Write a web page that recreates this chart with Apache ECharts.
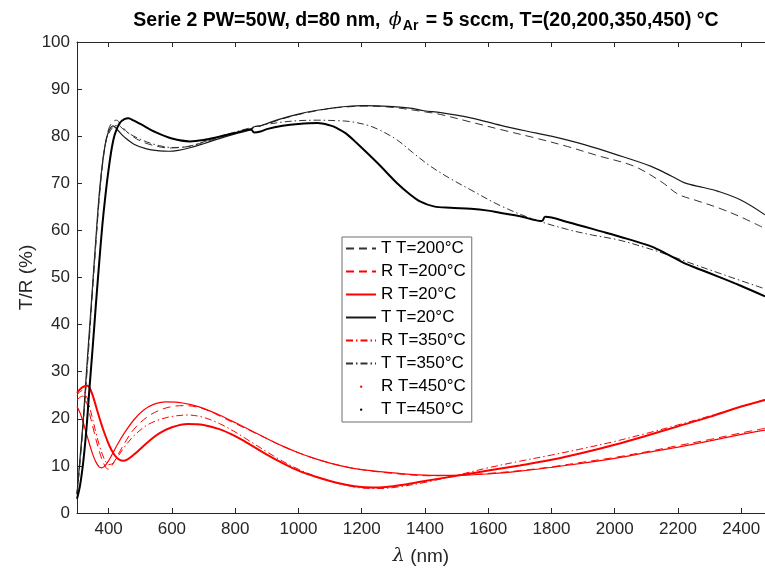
<!DOCTYPE html>
<html>
<head>
<meta charset="utf-8">
<script src="https://cdn.jsdelivr.net/npm/echarts@6/dist/echarts.min.js"></script>
<style>
html,body{margin:0;padding:0;background:#fff;}
#chart{width:765px;height:571px;}
</style>
</head>
<body>
<div id="chart"></div>
<script>
// ---- data (wavelength nm / value %) ----
var xTicks = [400,600,800,1000,1200,1400,1600,1800,2000,2200,2400];

var t200_nm = [300,310,320,330,340,350,360,370,380,390,400,412,425,440,460,500,550,594,650,700,750,800,850,900,950,1000,1050,1100,1150,1207,1300,1397,1450,1545,1640,1750,1851,1950,2062,2150,2200,2260,2327,2400,2475];
var t200_val = [4,11,19,28.5,38,48,57.5,66.5,73.5,78.5,81.5,83.0,83.4,82.3,80.8,79.0,77.9,77.5,77.8,78.7,79.7,80.7,81.6,82.6,83.7,84.6,85.3,85.9,86.2,86.4,86.1,85.2,84.6,83.0,81.4,79.6,77.8,75.8,73.6,70.2,67.7,66.3,64.8,62.8,60.4];

var r200_nm = [300,310,318,330,340,350,360,370,380,390,398,410,425,450,480,520,560,600,640,680,720,760,800,850,900,950,1000,1050,1100,1150,1200,1300,1420,1500,1600,1700,1800,1900,2000,2100,2200,2300,2400,2475];
var r200_val = [24.0,24.6,24.8,23.5,21.0,18.3,15.6,13.2,11.2,9.8,9.3,10.0,11.8,14.8,17.8,20.3,21.8,22.6,22.8,22.5,21.6,20.3,19.0,17.4,15.8,14.2,12.8,11.6,10.6,9.8,9.2,8.4,7.9,8.0,8.4,9.0,9.8,10.8,11.8,13.0,14.3,15.6,17.0,18.0];

var r20_nm = [300,310,320,330,340,350,360,370,377,385,395,410,430,450,480,510,540,580,620,660,700,750,800,850,900,950,1000,1050,1100,1150,1200,1300,1420,1500,1600,1700,1800,1900,2000,2100,2200,2300,2400,2475];
var r20_val = [22.6,21.2,19.2,16.8,14.5,12.4,10.8,9.8,9.6,9.8,10.6,12.3,14.8,17.0,19.8,21.8,23.0,23.6,23.5,23.0,22.2,20.8,19.2,17.5,15.8,14.2,12.8,11.6,10.6,9.8,9.2,8.5,8.0,8.0,8.3,8.9,9.7,10.6,11.6,12.8,14.0,15.3,16.7,17.6];

var t20_nm = [300,310,320,330,340,350,360,370,380,390,400,414,430,450,480,520,560,590,620,660,700,750,800,850,860,880,900,950,1000,1050,1100,1150,1207,1300,1360,1397,1450,1545,1640,1720,1799,1904,2000,2115,2180,2221,2280,2327,2400,2475];
var t20_val = [4,12,20,30,39.5,49,58.5,67.5,74,78.5,81,82.2,81.2,79.8,78.3,77.3,76.9,76.8,77.0,77.6,78.4,79.5,80.5,81.4,82.0,82.2,82.7,83.8,84.7,85.4,85.9,86.3,86.5,86.3,85.9,85.4,85.0,83.9,82.3,81.1,80.0,78.2,76.2,73.6,71.5,70.1,69.1,68.3,66.4,63.3];

var r350_nm = [300,310,318,330,340,350,360,370,380,390,400,410,425,450,480,520,560,600,650,700,750,800,850,900,950,1000,1050,1100,1150,1200,1250,1300,1400,1500,1600,1700,1800,1900,2000,2100,2200,2300,2400,2475];
var r350_val = [25.0,25.8,26.0,24.8,22.5,19.8,17.0,14.5,12.5,11.0,10.3,10.4,11.6,14.0,16.4,18.6,19.8,20.5,20.8,20.3,19.0,17.2,15.1,13.0,11.0,9.3,7.9,6.8,5.9,5.3,5.2,5.4,6.5,8.0,9.6,11.0,12.3,13.7,15.2,16.9,18.7,20.6,22.6,24.1];

var t350_nm = [300,310,320,330,340,350,360,370,380,390,400,415,430,450,480,520,560,600,650,700,750,800,850,900,950,1000,1060,1120,1164,1220,1260,1312,1360,1418,1480,1545,1640,1746,1851,1930,2010,2090,2168,2250,2327,2400,2475];
var t350_val = [4,11.5,19.5,29,38.5,48.5,58,67,74,78.5,80.5,82.0,82.3,81.2,80.0,78.8,78.0,77.6,77.8,78.8,79.9,80.9,81.8,82.5,83.0,83.3,83.4,83.3,83.1,82.3,81.2,79.2,76.6,73.6,71.0,68.6,65.2,62.3,60.2,59.0,58.0,56.5,54.8,52.8,51.0,49.3,47.6];

var r450_nm = [300,310,320,333,345,355,365,375,385,395,405,415,425,435,445,460,480,500,530,560,600,650,700,750,800,850,900,950,1000,1050,1100,1150,1200,1250,1300,1350,1400,1500,1600,1700,1800,1900,2000,2100,2200,2300,2400,2475];
var r450_val = [25.5,26.3,26.8,27.0,25.8,23.8,21.5,19.3,17.3,15.5,13.9,12.7,11.8,11.3,11.1,11.4,12.4,13.6,15.4,16.9,18.2,18.9,18.7,17.8,16.3,14.4,12.4,10.6,9.0,7.8,6.8,6.0,5.5,5.4,5.7,6.2,6.8,7.9,9.0,10.1,11.3,12.8,14.5,16.4,18.4,20.4,22.6,24.0];

var t450_nm = [300,310,320,330,340,350,360,370,380,390,400,410,420,435,450,462,480,500,550,600,657,700,750,800,850,860,880,900,950,1000,1060,1100,1122,1150,1185,1250,1312,1350,1386,1428,1480,1545,1600,1640,1700,1770,1780,1850,1957,2040,2115,2170,2221,2270,2327,2400,2475];
var t450_val = [3,6,11,18,27,35.5,44.5,53,61,67.5,73,77.5,80.5,82.8,83.6,83.8,83.3,82.6,80.8,79.5,78.9,79.2,79.9,80.7,81.4,80.8,81.0,81.5,82.2,82.6,82.8,82.3,81.7,80.6,78.5,74.3,70.0,67.8,66.1,65.1,64.8,64.6,64.2,63.7,63.0,62.0,62.9,61.8,59.8,58.2,56.6,54.8,53.0,51.7,50.2,48.2,46.0];

function pairs(xs, ys){ return xs.map(function(x,i){ return [x, ys[i]]; }); }

var FONT = "'Liberation Sans', Arial, Helvetica, sans-serif";
var AX = '#262626';
var RED = '#ff0000';
var TCOL = '#1a1a1a';

var seriesDefs = [
  {name:'T T=200°C', d:pairs(t200_nm,t200_val), color:'#333333', type:[8,5], width:1},
  {name:'R T=200°C', d:pairs(r200_nm,r200_val), color:RED, type:[8,5], width:1},
  {name:'R T=20°C',  d:pairs(r20_nm,r20_val),   color:RED, type:'solid', width:1.2},
  {name:'T T=20°C',  d:pairs(t20_nm,t20_val),   color:TCOL, type:'solid', width:1.2},
  {name:'R T=350°C', d:pairs(r350_nm,r350_val), color:RED, type:[7,3,1.5,3], width:1},
  {name:'T T=350°C', d:pairs(t350_nm,t350_val), color:'#333333', type:[7,3,1.5,3], width:1},
  {name:'R T=450°C', d:pairs(r450_nm,r450_val), color:RED, type:'solid', width:2},
  {name:'T T=450°C', d:pairs(t450_nm,t450_val), color:'#000000', type:'solid', width:2}
];

var series = seriesDefs.map(function(s){
  return {
    name: s.name, type:'line', data: s.d, symbol:'none', smooth:0.35,
    xAxisIndex:0, yAxisIndex:0,
    color: s.color,
    lineStyle:{color:s.color, width:s.width, type:s.type},
    animation:false
  };
});

var dotIcon = 'path://M0,0M30,14M14,6h2.4v2.4h-2.4z';
var legendData = seriesDefs.map(function(s){
  var o = {name:s.name};
  if (s.name.indexOf('450') >= 0) {
    o.icon = dotIcon;
    o.itemStyle = {opacity:1, color:s.color};
  }
  return o;
});

var chart = echarts.init(document.getElementById('chart'), null, {renderer:'canvas'});
chart.setOption({
  backgroundColor:'#ffffff',
  animation:false,
  title:{
    left:421, top:6, textAlign:'center',
    text:'{b|Serie 2 PW=50W, d=80 nm, }{phi|ϕ}{sub|Ar}{b| = 5 sccm, T=(20,200,350,450) °C}',
    textStyle:{
      fontFamily:FONT,
      rich:{
        b:{fontFamily:FONT, fontSize:19.5, fontWeight:'bold', color:'#000', lineHeight:22, verticalAlign:'top'},
        phi:{fontFamily:"'DejaVu Serif', serif", fontSize:19, fontStyle:'italic', fontWeight:'normal', color:'#000', lineHeight:22, verticalAlign:'top', padding:[0,1,0,3]},
        sub:{fontFamily:FONT, fontSize:14, fontWeight:'bold', color:'#000', lineHeight:13, padding:[13,2,0,0], verticalAlign:'bottom'}
      }
    }
  },
  grid:{left:77, right:0, top:42, bottom:58, containLabel:false},
  xAxis:[{
    type:'value', min:300, max:2475, position:'bottom',
    name:'{l|λ} (nm)', nameLocation:'middle', nameGap:34,
    nameTextStyle:{fontFamily:FONT, fontSize:19, color:AX,
      rich:{l:{fontFamily:"'DejaVu Serif', serif", fontStyle:'italic', fontSize:19, color:AX}}},
    axisLine:{show:true, lineStyle:{color:AX, width:1}},
    axisTick:{show:true, inside:true, length:5, lineStyle:{color:AX}, customValues:xTicks},
    axisLabel:{show:true, color:AX, fontFamily:FONT, fontSize:17, margin:8, customValues:xTicks,
      formatter:function(v){ return String(v); }},
    splitLine:{show:false}
  },{
    type:'value', min:300, max:2475, position:'top',
    axisLine:{show:true, onZero:false, lineStyle:{color:AX, width:1}},
    axisTick:{show:true, inside:true, length:5, lineStyle:{color:AX}, customValues:xTicks},
    axisLabel:{show:false},
    splitLine:{show:false}
  }],
  yAxis:[{
    type:'value', min:0, max:100, interval:10,
    name:'T/R (%)', nameLocation:'middle', nameGap:41, nameMoveOverlap:false,
    nameTextStyle:{fontFamily:FONT, fontSize:19, color:AX},
    axisLine:{show:true, lineStyle:{color:AX, width:1}},
    axisTick:{show:true, inside:true, length:5, lineStyle:{color:AX}},
    axisLabel:{color:AX, fontFamily:FONT, fontSize:17, margin:7,
      formatter:function(v){ return String(v); }},
    splitLine:{show:false}
  }],
  legend:{
    show:true, orient:'vertical', left:342, top:237,
    backgroundColor:'#ffffff', borderColor:'#6e6e6e', borderWidth:1,
    padding:[3,6,4,3], itemGap:6, itemWidth:30, itemHeight:12,
    itemStyle:{opacity:0},
    textStyle:{fontFamily:FONT, fontSize:17, color:'#000', lineHeight:16},
    data: legendData,
    selectedMode:false
  },
  series: series
});
</script>
</body>
</html>
